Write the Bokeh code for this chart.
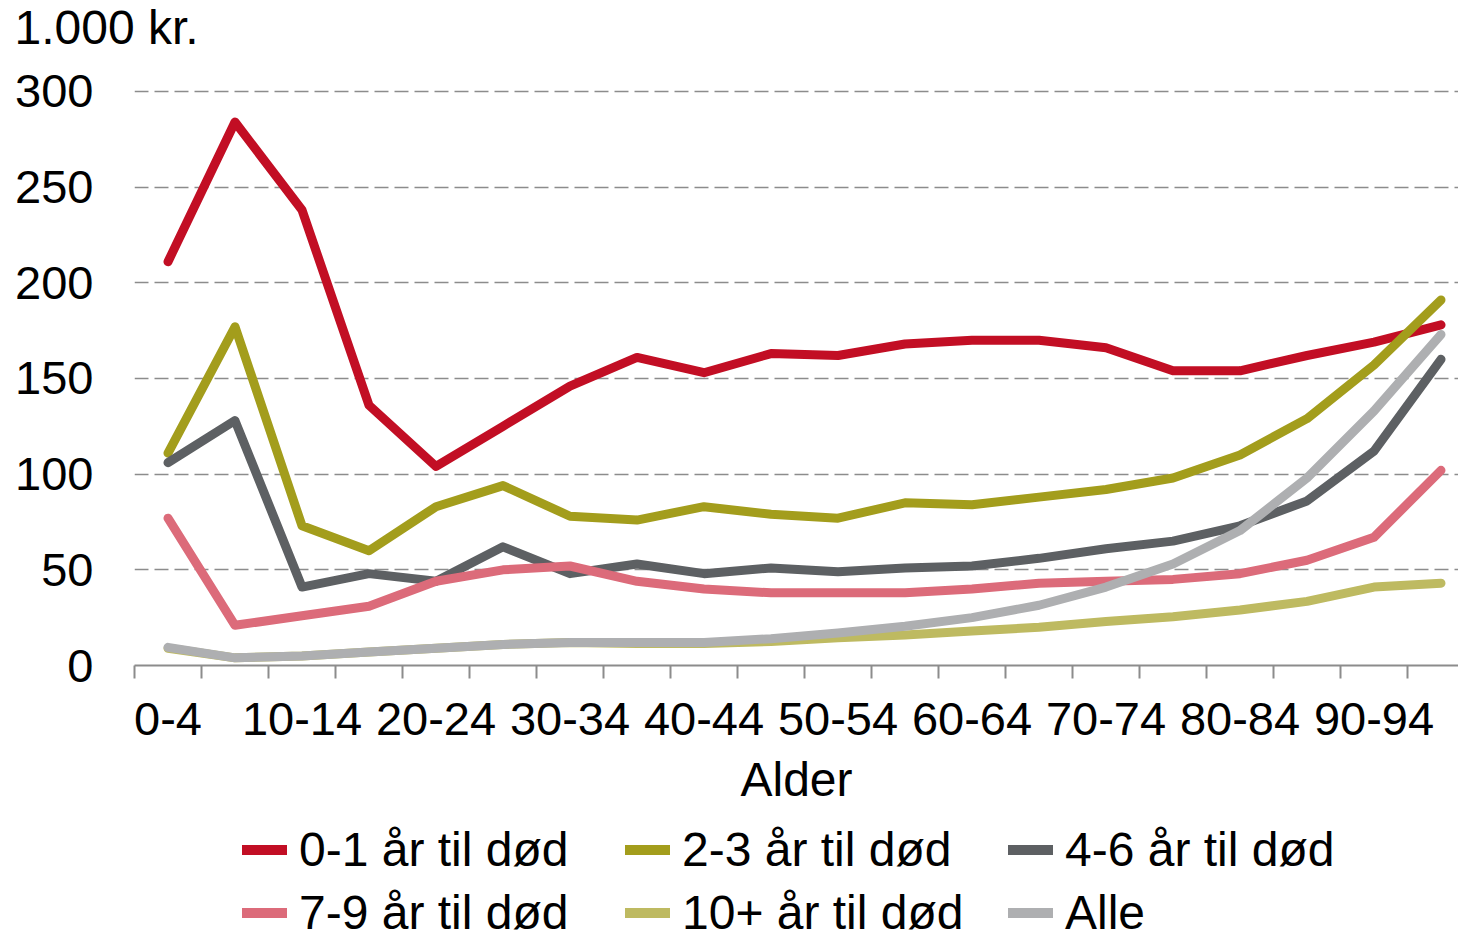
from bokeh.plotting import figure
from bokeh.models import FixedTicker, Range1d, Legend, LegendItem
from bokeh.layouts import column
from bokeh.embed import file_html
from bokeh.resources import INLINE

# ---------------- data ----------------
categories = ["0-4", "5-9", "10-14", "15-19", "20-24", "25-29", "30-34", "35-39",
              "40-44", "45-49", "50-54", "55-59", "60-64", "65-69", "70-74",
              "75-79", "80-84", "85-89", "90-94", "95+"]

series_names = ["0-1 år til død", "2-3 år til død", "4-6 år til død",
                "7-9 år til død", "10+ år til død", "Alle"]

v_0_1 = [211, 284, 238, 136, 104, 125, 146, 161, 153, 163,
         162, 168, 170, 170, 166, 154, 154, 162, 169, 178]
v_2_3 = [111, 177, 73, 60, 83, 94, 78, 76, 83, 79,
         77, 85, 84, 88, 92, 98, 110, 129, 157, 191]
v_4_6 = [106, 128, 41, 48, 44, 62, 48, 53, 48, 51,
         49, 51, 52, 56, 61, 65, 73, 86, 112, 160]
v_7_9 = [77, 21, 26, 31, 44, 50, 52, 44, 40, 38,
         38, 38, 40, 43, 44, 45, 48, 55, 67, 102]
v_10p = [9, 4, 5, 7, 9, 11, 12, 11.5, 11.5, 12.5,
         14.5, 16, 18, 20, 23, 25.5, 29, 33.5, 41, 43]
v_alle = [9.5, 4, 5, 7, 9, 11, 12, 12, 12, 14,
          17, 20.5, 25, 31.5, 41, 53, 70.5, 98, 133, 173]

series_values = [v_0_1, v_2_3, v_4_6, v_7_9, v_10p, v_alle]
series_colors = ["#C20E24", "#A39D1C", "#5D6063", "#DC6B7A", "#BEBA61", "#AEAFB1"]

y_ticks = [0, 50, 100, 150, 200, 250, 300]
y_unit_label = "1.000 kr."
x_axis_label = "Alder"

# ---------------- layout constants ----------------
FONT = "Liberation Sans"
FS_TICK = "47px"
FS_TEXT = "48px"
GREY = "#8C8C8C"
W = 1458
TOP_H = 60            # strip holding the unit label
MAIN_BOTTOM = 815     # page y where the main chart ends
MAIN_H = MAIN_BOTTOM - TOP_H
LEG_H = 937 - MAIN_BOTTOM
LEFT = 134            # frame left (all stacked plots share it)
FRAME_TOP, FRAME_BOTTOM = 89, 665   # page coordinates
CAT_PX = 67.0
LW = 9

xs = list(range(len(categories)))


def bare_figure(h, title=None):
    f = figure(width=W, height=h, output_backend="svg", toolbar_location=None,
               title=title, x_axis_location=None, y_axis_location=None,
               x_range=Range1d(0, 1), y_range=Range1d(0, 1),
               min_border=0, min_border_left=LEFT,
               outline_line_color=None,
               background_fill_color="white", border_fill_color="white")
    f.grid.visible = False
    return f


# ---------------- unit label strip ----------------
top = bare_figure(TOP_H, title=y_unit_label)
top.title.align = "left"
top.title.offset = 14 - LEFT
top.title.vertical_align = "top"
top.title.standoff = 0
top.title.text_font = FONT
top.title.text_font_size = FS_TEXT
top.title.text_font_style = "normal"
top.title.text_color = "black"

# ---------------- main chart ----------------
p = figure(width=W, height=MAIN_H, output_backend="svg", toolbar_location=None,
           title=None,
           x_range=Range1d(-0.5, -0.5 + (W - LEFT) / CAT_PX),
           y_range=Range1d(0, 301),
           min_border_left=LEFT, min_border_right=0,
           min_border_top=FRAME_TOP - TOP_H,
           min_border_bottom=MAIN_BOTTOM - FRAME_BOTTOM,
           outline_line_color=None, background_fill_color="white",
           border_fill_color="white")

for ys, col in zip(series_values, series_colors):
    p.line(x=xs, y=ys, line_color=col, line_width=LW,
           line_cap="round", line_join="round")

xa = p.xaxis[0]
xa.ticker = FixedTicker(ticks=[i for i in xs if i % 2 == 0],
                        minor_ticks=[i - 0.5 for i in xs])
xa.major_label_overrides = {i: categories[i] for i in xs if i % 2 == 0}
xa.axis_line_color = GREY
xa.axis_line_width = 2
xa.major_tick_line_color = None
xa.major_tick_in = 0
xa.major_tick_out = 13
xa.minor_tick_line_color = GREY
xa.minor_tick_line_width = 2
xa.minor_tick_in = 0
xa.minor_tick_out = 13
xa.major_label_standoff = 24
xa.major_label_text_font = FONT
xa.major_label_text_font_size = FS_TICK
xa.major_label_text_color = "black"
xa.axis_label = x_axis_label
xa.axis_label_text_font = FONT
xa.axis_label_text_font_size = FS_TEXT
xa.axis_label_text_font_style = "normal"
xa.axis_label_text_color = "black"
xa.axis_label_standoff = 15

ya = p.yaxis[0]
ya.ticker = FixedTicker(ticks=y_ticks)
ya.axis_line_color = None
ya.major_tick_line_color = None
ya.minor_tick_line_color = None
ya.major_tick_in = 0
ya.major_tick_out = 0
ya.major_label_standoff = 41
ya.major_label_text_font = FONT
ya.major_label_text_font_size = FS_TICK
ya.major_label_text_color = "black"

p.xgrid.visible = False
p.ygrid.grid_line_color = GREY
p.ygrid.grid_line_width = 1.5
p.ygrid.grid_line_dash = "14 6"

# ---------------- legend strip ----------------
leg = bare_figure(LEG_H)
leg_renderers = []
for ys, col in zip(series_values, series_colors):
    r = leg.line(x=xs, y=ys, line_color=col, line_width=LW + 1,
                 line_cap="round", line_join="round", visible=False)
    leg_renderers.append(r)

ITEM_H = 57
ROW_GAP = 6
GLYPH_W = 45
STANDOFF = 12
COL_PITCH = 383
LEG_TOTAL = 2 * ITEM_H + ROW_GAP
row1_top = (849 - MAIN_BOTTOM) - ITEM_H / 2
legend = Legend(items=[LegendItem(label=n, renderers=[r])
                       for n, r in zip(series_names, leg_renderers)],
                location=(242 - LEFT, LEG_H - row1_top - LEG_TOTAL),
                orientation="horizontal", ncols=3,
                glyph_width=GLYPH_W, glyph_height=ITEM_H,
                label_width=COL_PITCH - GLYPH_W - STANDOFF - ROW_GAP,
                label_height=ITEM_H, label_standoff=STANDOFF, spacing=ROW_GAP,
                padding=0, margin=0, border_line_color=None,
                background_fill_alpha=0,
                label_text_font=FONT, label_text_font_size=FS_TEXT,
                label_text_color="black")
leg.add_layout(legend)

layout = column(top, p, leg, spacing=0)

open("out.html", "w").write(file_html(layout, INLINE))
